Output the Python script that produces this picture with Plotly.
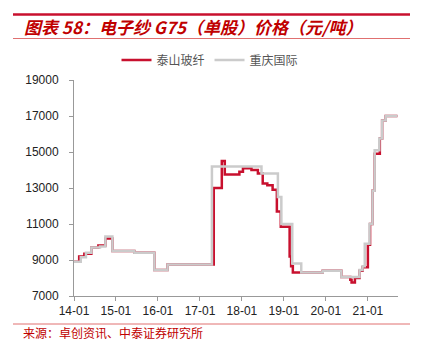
import plotly.graph_objects as go

# 泰山玻纤 (step change points)
ts_dates = ["2014-01-01", "2014-02-15", "2014-04-01", "2014-06-01", "2014-08-01", "2014-10-01",
            "2014-12-01", "2015-06-10", "2015-12-01", "2016-03-25", "2017-05-01", "2017-07-10",
            "2017-08-05", "2017-12-10", "2018-01-10", "2018-03-25", "2018-05-20", "2018-07-01",
            "2018-08-10", "2018-09-25", "2018-11-01", "2018-12-05", "2019-02-20", "2019-03-05",
            "2019-03-20", "2019-12-05", "2020-05-15", "2020-08-01", "2020-08-12", "2020-09-10",
            "2020-10-20", "2020-11-15", "2021-01-01", "2021-01-20", "2021-02-10", "2021-03-01",
            "2021-04-15", "2021-05-05", "2021-06-05", "2021-09-15"]
ts_values = [8900, 9200, 9350, 9700, 9800, 10200,
             9500, 9400, 8450, 8750, 13000, 14500,
             13750, 13900, 14100, 14000, 13800, 13250,
             13150, 12900, 11700, 10850, 9200, 8650,
             8300, 8400, 8050, 7900, 7750, 8000,
             8400, 8600, 9850, 11000, 12850, 14900,
             15750, 16750, 17000, 17000]

# 重庆国际
cq_dates = ["2014-01-01", "2014-03-01", "2014-04-15", "2014-06-01", "2014-08-15", "2014-10-01",
            "2014-12-01", "2015-06-10", "2015-12-01", "2016-03-25", "2017-04-15", "2018-06-20",
            "2018-11-10", "2018-12-10", "2019-03-15", "2019-06-01", "2019-12-05", "2020-05-15",
            "2020-09-10", "2020-10-20", "2020-11-15", "2020-12-05", "2021-01-15", "2021-02-10",
            "2021-03-01", "2021-04-10", "2021-05-05", "2021-06-05", "2021-09-15"]
cq_values = [8900, 9150, 9400, 9700, 9750, 10300,
             9500, 9400, 8450, 8750, 14200, 13800,
             12500, 11000, 8800, 8300, 8400, 8050,
             8050, 8450, 8650, 9900, 11000, 12850,
             15100, 15750, 16750, 17000, 17000]

y_ticks = [7000, 9000, 11000, 13000, 15000, 17000, 19000]

RED = "#C8102E"
GRAY = "#CBCBCB"

fig = go.Figure()
fig.add_trace(go.Scatter(x=ts_dates, y=ts_values, mode="lines", name="泰山玻纤",
                         line=dict(color=RED, width=2.5, shape="hv")))
fig.add_trace(go.Scatter(x=cq_dates, y=cq_values, mode="lines", name="重庆国际",
                         line=dict(color=GRAY, width=2.5, shape="hv")))

L, R, T, B = 74, 24, 80, 62
W, H = 422, 358
pw, ph = W - L - R, H - T - B

def px(xp):
    return (xp - L) / pw

def py(yp):
    return (H - B - yp) / ph

fig.update_layout(
    width=W, height=H,
    margin=dict(l=L, r=R, t=T, b=B, autoexpand=False),
    paper_bgcolor="white", plot_bgcolor="white",
    font=dict(family="Liberation Sans, Arial, sans-serif", size=12, color="#222"),
    showlegend=True,
    legend=dict(orientation="h", x=px(210), xanchor="center", y=py(60), yanchor="middle",
                font=dict(family="Noto Sans CJK SC", size=12, color="#555"),
                itemwidth=30, bgcolor="rgba(0,0,0,0)"),
    xaxis=dict(type="date", range=["2014-01-01", "2021-09-20"],
               tick0="2014-01-01", dtick="M12", tickformat="%y-%m",
               showgrid=False, zeroline=False, showline=True, linecolor="#999", linewidth=1,
               ticks="outside", ticklen=4, tickcolor="#999",
               tickfont=dict(size=12, color="#222")),
    yaxis=dict(range=[7000, 19000], tickvals=y_ticks, ticktext=[str(v) for v in y_ticks],
               showgrid=False, zeroline=False, showline=True, linecolor="#999", linewidth=1,
               ticks="outside", ticklen=4, tickcolor="#999", ticklabelstandoff=8,
               tickfont=dict(size=12, color="#222")),
    shapes=[
        dict(type="line", xref="paper", yref="paper", x0=px(13), x1=px(410), y0=py(14.5), y1=py(14.5),
             line=dict(color=RED, width=2.5)),
        dict(type="line", xref="paper", yref="paper", x0=px(13), x1=px(410), y0=py(38.5), y1=py(38.5),
             line=dict(color="#E07070", width=1)),
        dict(type="line", xref="paper", yref="paper", x0=px(13), x1=px(410), y0=py(324), y1=py(324),
             line=dict(color="#E07070", width=1)),
    ],
    annotations=[
        dict(text="<b>图表 58：电子纱 G75（单股）价格（元/吨）</b>", xref="paper", yref="paper",
             x=px(22), y=py(27), xanchor="left", yanchor="middle", showarrow=False,
             font=dict(family="Noto Sans CJK SC", size=17, color="#C00000", style="italic")),
        dict(text="来源：卓创资讯、中泰证券研究所", xref="paper", yref="paper",
             x=px(21), y=py(332.5), xanchor="left", yanchor="middle", showarrow=False,
             font=dict(family="Noto Sans CJK SC", size=12, color="#C00000")),
    ],
)

fig.write_html("out.html", config={"displayModeBar": False},
               post_script="document.body.style.margin='0';document.body.style.padding='0';")
